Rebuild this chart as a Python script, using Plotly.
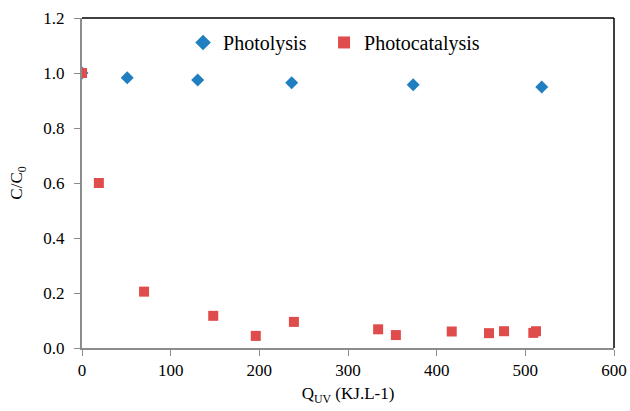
import plotly.graph_objects as go

photolysis_x = [0, 51, 130.5, 236.5, 373.5, 518.5]
photolysis_y = [1.0, 0.983, 0.975, 0.965, 0.957, 0.949]

photocat_x = [0, 19, 70, 148, 196, 239, 334, 354, 417, 459, 476, 509, 512]
photocat_y = [1.0, 0.60, 0.205, 0.117, 0.044, 0.095, 0.068, 0.047, 0.060, 0.054, 0.061, 0.055, 0.061]

x_ticks = [0, 100, 200, 300, 400, 500, 600]
y_ticks = [0.0, 0.2, 0.4, 0.6, 0.8, 1.0, 1.2]

FONT = "Liberation Serif"

fig = go.Figure()
fig.add_trace(go.Scatter(
    x=photolysis_x, y=photolysis_y, mode="markers", name="Photolysis",
    marker=dict(symbol="diamond", size=10, color="#1f7fc1"), legend="legend",
))
fig.add_trace(go.Scatter(
    x=photocat_x, y=photocat_y, mode="markers", name="Photocatalysis",
    marker=dict(symbol="square", size=10, color="#e04b4b"), legend="legend2",
))

leg_common = dict(
    orientation="h", y=0.985, xanchor="left", yanchor="top",
    font=dict(family=FONT, size=20, color="black"),
    bgcolor="rgba(0,0,0,0)", itemsizing="constant",
)

fig.update_layout(
    width=630, height=411,
    margin=dict(l=82, r=16, t=18, b=63, autoexpand=False),
    paper_bgcolor="white", plot_bgcolor="white",
    font=dict(family=FONT, size=17, color="black"),
    showlegend=True,
    legend=dict(x=0.19, **leg_common),
    legend2=dict(x=0.455, **leg_common),
    xaxis=dict(
        range=[0, 600], tickvals=x_ticks, ticktext=[str(v) for v in x_ticks],
        showgrid=False, zeroline=False, showline=True, linecolor="#8c8c8c", linewidth=2,
        ticks="outside", ticklen=6, tickcolor="#8c8c8c", tickwidth=1,
        automargin=False,
        title=dict(text="Q<sub>UV</sub> (KJ.L-1)", font=dict(family=FONT, size=17), standoff=8),
    ),
    yaxis=dict(
        range=[0, 1.2], tickvals=y_ticks, ticktext=[f"{v:.1f}" for v in y_ticks],
        showgrid=False, zeroline=False, showline=True, linecolor="#8c8c8c", linewidth=2,
        ticks="outside", ticklen=6, tickcolor="#8c8c8c", tickwidth=1,
        ticklabelstandoff=6, automargin=False,
        title=dict(text="C/C<sub>0</sub>", font=dict(family=FONT, size=17), standoff=16),
    ),
    shapes=[
        dict(type="line", xref="paper", yref="paper", x0=0, x1=1, y0=1, y1=1,
             line=dict(color="black", width=1.5)),
        dict(type="line", xref="paper", yref="paper", x0=1, x1=1, y0=0, y1=1,
             line=dict(color="black", width=1.5)),
    ],
)

fig.write_html("out.html")
